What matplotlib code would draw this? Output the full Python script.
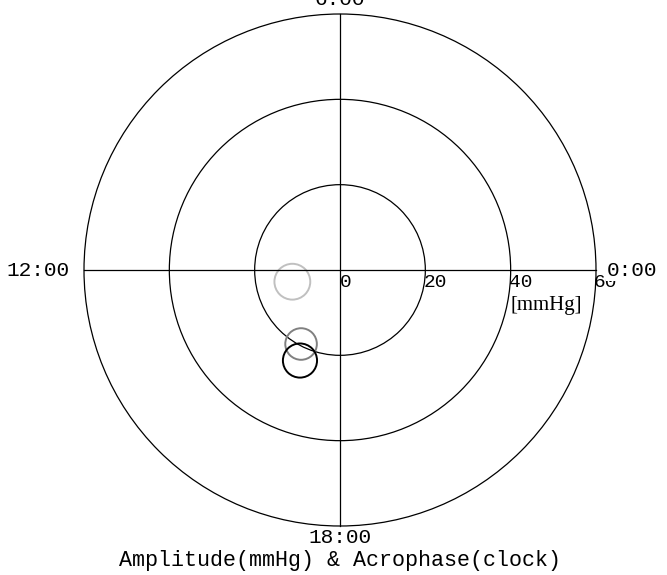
import matplotlib
matplotlib.use("Agg")
import matplotlib.pyplot as plt
from matplotlib.patches import Circle
import numpy as np

# data
ring_values = [20, 40, 60]
tick_labels = ["0", "20", "40", "60"]
tick_values = [0, 20, 40, 60]
clock_labels = ["0:00", "6:00", "12:00", "18:00"]
amplitudes = [11.5, 19.6, 23.2]          # mmHg
acrophases = [12.92, 16.15, 16.41]       # hours (0:00 at right, CCW)
ellipse_radius = [4.2, 3.7, 4.0]         # confidence size (mmHg)
point_colors = ["#c0c0c0", "#808080", "#000000"]
title = "Amplitude(mmHg) & Acrophase(clock)"
unit_label = "[mmHg]"

W, H = 667, 575
fig = plt.figure(figsize=(W / 100, H / 100), dpi=100)
ax = fig.add_axes([84 / W, (H - 526) / H, 512 / W, 512 / H])
ax.set_xlim(-60, 60)
ax.set_ylim(-60, 60)
ax.set_aspect("equal")
ax.axis("off")

mono = ["Liberation Mono", "DejaVu Sans Mono"]
R = max(ring_values)
for r in ring_values:
    ax.add_patch(Circle((0, 0), r, fill=False, ec="black", lw=0.9, clip_on=False))
ax.plot([-R, R], [0, 0], color="black", lw=0.9, clip_on=False)
ax.plot([0, 0], [-R, R], color="black", lw=0.9, clip_on=False)

for a, h, sr, c in zip(amplitudes, acrophases, ellipse_radius, point_colors):
    th = h / 24 * 2 * np.pi
    ax.add_patch(Circle((a * np.cos(th), a * np.sin(th)), sr, fill=False,
                        ec=c, lw=1.4, clip_on=False))

for v, lab in zip(tick_values, tick_labels):
    ax.text(v - 0.5 if v else v, -2.9, lab, ha="left", va="center",
            fontsize=14, family=mono)

ax.text(48.3, -8.3, unit_label, ha="center", va="center", fontsize=15,
        family=["Liberation Serif", "DejaVu Serif"])

ax.text(62.6, 0, clock_labels[0], ha="left", va="center", fontsize=15.2,
        family=mono, bbox=dict(boxstyle="square,pad=0.05", fc="white", ec="none"))
ax.text(0, 63.3, clock_labels[1], ha="center", va="center", fontsize=15.2, family=mono)
ax.text(-63.3, 0, clock_labels[2], ha="right", va="center", fontsize=15.2, family=mono)
ax.text(0, -62.8, clock_labels[3], ha="center", va="center", fontsize=15.2, family=mono)
ax.text(0, -68.0, title, ha="center", va="center", fontsize=15.6, family=mono)

fig.savefig("out.png", dpi=100, facecolor="white")
